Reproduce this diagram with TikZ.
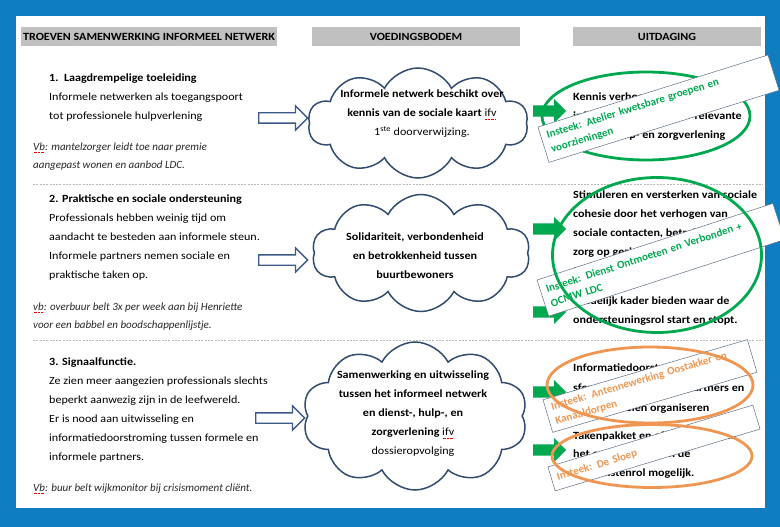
\documentclass[tikz,border=0pt]{standalone}
\usepackage{fontspec}
\setmainfont{Carlito}[FakeStretch=1.1]
\newfontfamily\plainfont{Carlito}
\usetikzlibrary{shapes.geometric,shapes.symbols,shapes.arrows}
\definecolor{bgblue}{RGB}{14,126,192}
\definecolor{hdrgray}{RGB}{192,192,192}
\definecolor{cloudline}{RGB}{50,76,112}
\definecolor{arrowblue}{RGB}{60,90,135}
\definecolor{ggreen}{RGB}{0,168,80}
\definecolor{orng}{RGB}{238,150,82}
\definecolor{boxline}{RGB}{95,112,130}
\definecolor{itgray}{RGB}{40,40,40}
\newcommand\spl[1]{\setbox0\hbox{#1}\rlap{\textcolor{red}{\raisebox{-2.4pt}{\hbox to \wd0{\leaders\hbox to 1.4pt{\hss\rule{0.6pt}{0.6pt}\hss}\hfill}}}}\box0}
\begin{document}
\begin{tikzpicture}[x=1pt,y=-1pt,
  hdr/.style={fill=hdrgray,inner sep=0pt,font=\fontsize{11}{12}\selectfont\bfseries},
  sepline/.style={draw=gray!55,line width=0.6pt,dash pattern=on 2pt off 1.3pt},
  lefttext/.style={anchor=north west,inner sep=0pt,align=left,font=\fontsize{11}{19}\selectfont},
  extext/.style={anchor=north west,inner sep=0pt,align=left,text=itgray,font=\plainfont\fontsize{11}{18}\selectfont\itshape},
  cloudbox/.style={cloud,cloud puffs=10,cloud puff arc=125,aspect=2,draw=cloudline,line width=1.5pt,fill=white,inner sep=0pt},
  cloudtext/.style={align=center,inner sep=0pt,font=\fontsize{11}{19}\selectfont},
  harrow/.style={single arrow,draw=arrowblue,line width=1.3pt,fill=white,minimum height=49pt,minimum width=23pt,inner sep=4.5pt,single arrow head extend=7pt,anchor=west},
  garrow/.style={single arrow,fill=ggreen,minimum height=33pt,minimum width=24pt,inner sep=5.5pt,single arrow head extend=6.5pt,anchor=west},
  righttext/.style={anchor=north west,inner sep=0pt,align=left,font=\fontsize{11}{19}\selectfont\bfseries},
  gell/.style={ellipse,draw=ggreen,line width=2.8pt,inner sep=0pt},
  oell/.style={ellipse,draw=orng,line width=2.8pt,inner sep=0pt},
  insbox/.style={draw=boxline,line width=0.5pt,fill=white,inner xsep=6pt,inner ysep=1pt,align=left,font=\plainfont\fontsize{11}{15}\selectfont\bfseries}
]
\useasboundingbox (0,0) rectangle (780,527);
\fill[bgblue] (0,0) rectangle (780,527);
\fill[white] (16,16) rectangle (765,508);

% headers
\node[hdr,minimum width=256pt,minimum height=19pt] (h1) at (149,36.5) {TROEVEN SAMENWERKING INFORMEEL NETWERK};
\node[hdr,minimum width=208pt,minimum height=19pt] (h2) at (416,36.5) {VOEDINGSBODEM};
\node[hdr,minimum width=188pt,minimum height=19pt] (h3) at (667,36.5) {UITDAGING};

% separators
\coordinate (s1a) at (33,184); \coordinate (s1b) at (763,184);
\coordinate (s2a) at (33,340); \coordinate (s2b) at (763,340);
\draw[sepline] (s1a) -- (s1b);
\draw[sepline] (s2a) -- (s2b);

% left column
\node[lefttext] (l1) at (49,73.5) {\textbf{1.\enspace Laagdrempelige toeleiding}\\Informele netwerken als toegangspoort\\tot professionele hulpverlening};
\node[extext] (x1) at (33,142.5) {\spl{Vb}: mantelzorger leidt toe naar premie\\aangepast wonen en aanbod LDC.};
\node[lefttext] (l2) at (49,194.5) {\textbf{2. Praktische en sociale ondersteuning}\\Professionals hebben weinig tijd om\\aandacht te besteden aan informele steun.\\Informele partners nemen sociale en\\praktische taken op.};
\node[extext] (x2) at (33,302.5) {\spl{vb}: overbuur belt 3x per week aan bij Henriette\\voor een babbel en boodschappenlijstje.};
\node[lefttext] (l3) at (49,357.5) {\textbf{3. Signaalfunctie.}\\Ze zien meer aangezien professionals slechts\\beperkt aanwezig zijn in de leefwereld.\\Er is nood aan uitwisseling en\\informatiedoorstroming tussen formele en\\informele partners.};
\node[extext] (x3) at (33,483.5) {\spl{Vb}: buur belt wijkmonitor bij crisismoment cli\"ent.};

% hollow arrows
\node[harrow] (a1) at (258,118) {};
\node[harrow] (a2) at (258,260) {};
\node[harrow] (a3) at (255,418) {};

% clouds
\node[cloudbox,minimum width=220pt,minimum height=110pt] (c1) at (418,123) {};
\node[cloudtext] (ct1) at (422,114) {\textbf{Informele netwerk beschikt over}\\\textbf{kennis van de sociale kaart} \spl{ifv}\\1\textsuperscript{ste} doorverwijzing.};
\node[cloudbox,minimum width=218pt,minimum height=117pt] (c2) at (421,253) {};
\node[cloudtext,font=\fontsize{11}{19}\selectfont\bfseries] (ct2) at (415,255.5) {Solidariteit, verbondenheid\\en betrokkenheid tussen\\buurtbewoners};
\node[cloudbox,minimum width=225pt,minimum height=148pt] (c3) at (415,416) {};
\node[cloudtext] (ct3) at (413,414) {\textbf{Samenwerking en uitwisseling}\\\textbf{tussen het informeel netwerk}\\\textbf{en dienst-, hulp-, en}\\\textbf{zorgverlening} \spl{ifv}\\dossieropvolging};

% green arrows
\node[garrow] (g1) at (533,111) {};
\node[garrow] (g2) at (533,229) {};
\node[garrow] (g3) at (533,312) {};
\node[garrow] (g4) at (533,392) {};
\node[garrow] (g5) at (533,450) {};

% right column texts
\node[righttext] (r1) at (573,92.5) {Kennis verhogen van het\\informeel netwerk over relevante\\dienst-, hulp- en zorgverlening};
\node[righttext] (r2) at (573,190.5) {Stimuleren en versterken van sociale\\cohesie door het verhogen van\\sociale contacten, betrokkenheid en\\zorg op gezinsniveau, buurt of\\tussen buren.};
\node[righttext] (r2b) at (573,296.5) {Duidelijk kader bieden waar de\\ondersteuningsrol start en stopt.};
\node[righttext,font=\fontsize{11}{20}\selectfont\bfseries] (r3) at (573,363.5) {Informatiedoorstroming tussen\\sferen: contacten met partners en\\professionelen organiseren};
\node[righttext,font=\fontsize{11}{18.5}\selectfont\bfseries] (r3b) at (573,431.5) {Takenpakket en afspraken maakt\\het onderscheid van de\\specialistenrol mogelijk.};

% row 1 challenge
\node[gell,minimum width=208pt,minimum height=88pt] (e1) at (646,116) {};
\node[insbox,rotate=17.4,minimum width=241pt,minimum height=37pt,text width=229pt,text=ggreen] (b1) at (658.5,108.7) {Insteek: Atelier kwetsbare groepen en\\voorzieningen};

% row 2 challenge
\node[insbox,rotate=18,minimum width=248pt,minimum height=38pt,text width=236pt,text=ggreen] (b2) at (660.8,259.8) {Insteek: Dienst Ontmoeten en Verbonden +\\OCMW LDC};
\node[gell,minimum width=209pt,minimum height=155pt] (e2) at (657,255) {};

% row 3 challenges
\node[insbox,rotate=16.4,minimum width=213pt,minimum height=34pt,text width=201pt,text=orng] (b3) at (650,386) {Insteek: Antennewerking Oostakker en\\Kanaaldorpen};
\node[insbox,rotate=16.8,minimum width=214pt,minimum height=25pt,text width=202pt,text=orng] (b4) at (654,448) {Insteek: De Sloep};
\node[oell,minimum width=206pt,minimum height=76pt] (e3) at (650,385) {};
\node[oell,minimum width=200pt,minimum height=63pt] (e4) at (652,456) {};
\end{tikzpicture}
\end{document}
